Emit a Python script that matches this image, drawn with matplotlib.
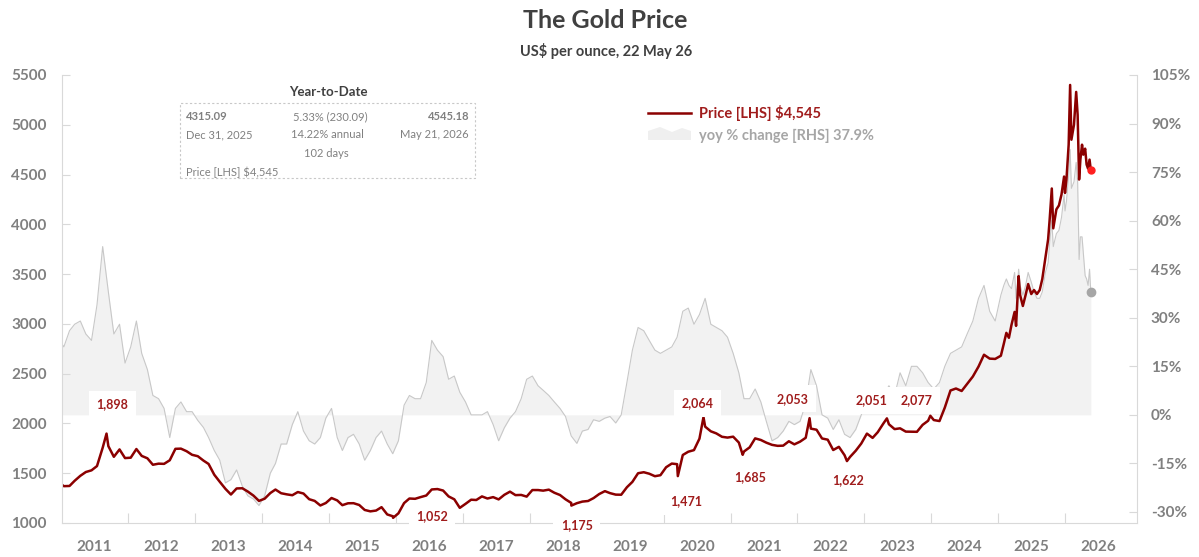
import matplotlib
matplotlib.use('Agg')
import matplotlib.pyplot as plt
from matplotlib.patches import Rectangle, Polygon
from matplotlib.lines import Line2D
import pandas as pd

plt.rcParams['font.family'] = ['Lato', 'DejaVu Sans']

# monthly gold price (US$/oz), Jan 2011 - Dec 2024
price_monthly = [
    1370, 1372, 1424, 1474, 1512, 1529, 1572, 1756, 1772, 1665, 1739, 1652,
    1656, 1743, 1674, 1650, 1585, 1596, 1594, 1630, 1745, 1747, 1721, 1685,
    1671, 1627, 1593, 1485, 1414, 1343, 1286, 1347, 1349, 1316, 1275, 1222,
    1244, 1301, 1336, 1299, 1288, 1279, 1311, 1296, 1239, 1222, 1176, 1201,
    1251, 1227, 1179, 1198, 1199, 1181, 1131, 1117, 1125, 1159, 1086, 1068,
    1097, 1200, 1246, 1243, 1260, 1276, 1337, 1341, 1326, 1267, 1238, 1152,
    1192, 1234, 1231, 1267, 1246, 1260, 1237, 1283, 1315, 1280, 1282, 1265,
    1331, 1331, 1325, 1335, 1304, 1281, 1238, 1202, 1199, 1215, 1221, 1250,
    1291, 1320, 1300, 1285, 1284, 1359, 1413, 1500, 1510, 1495, 1470, 1480,
    1560, 1597, 1591, 1683, 1716, 1732, 1847, 1968, 1921, 1900, 1866, 1858,
    1867, 1808, 1718, 1760, 1850, 1834, 1807, 1785, 1775, 1777, 1821, 1790,
    1817, 1856, 1948, 1937, 1849, 1837, 1733, 1765, 1681, 1664, 1726, 1798,
    1898, 1855, 1912, 2000, 1992, 1943, 1951, 1918, 1917, 1916, 1986, 2027,
    2034, 2024, 2159, 2331, 2351, 2326, 2398, 2471, 2571, 2690, 2651, 2648,
]

# year-on-year change (%), Jan 2011 - Dec 2024
yoy_monthly = [
    21, 26, 28, 29, 25, 23, 34, 52, 38, 25, 28, 16,
    21, 29, 19, 14, 6, 5, 2, -7, 2, 4, 1, 1,
    -1.7, -3.9, -7, -11, -14, -21, -20, -17, -22, -25, -26, -28,
    -25, -18, -15, -9, -9, -3, 1, -5, -8, -9, -7, -1,
    2, -7, -11, -7, -6, -9, -14, -11, -7, -5, -9, -12,
    -8, 3, 6, 5, 5, 10, 23, 20, 18, 11, 12, 7,
    4, 0, 0, 0, 1, -3, -8, -4, -1, 1, 5, 11,
    12, 9, 7.6, 6, 4, 2, -0.5, -6.5, -8.8, -5, -4.5, -1.5,
    -2, -1, -0.5, -2.5, 0, 10, 20, 27, 26, 23, 20, 19,
    20, 21, 24, 32, 33, 28, 31, 36, 28, 27, 26, 24,
    19, 13, 5, 5, 8, 4, -2, -8, -7, -5, -2, -3,
    -2, 3.5, 14, 9, 0, -1, -4.5, -1.5, -6, -7, -4.5, 0,
    4, 0.5, 2, 6, 9, 6, 13, 9, 15, 15, 13, 10,
    8, 10, 15, 19, 20, 21, 25, 29, 36, 40, 32, 29,
]

# more detail for the last stretch
recent_dates = ['2025-01-15', '2025-01-31', '2025-02-14', '2025-02-28', '2025-03-14',
                '2025-03-31', '2025-04-08', '2025-04-22', '2025-04-30', '2025-05-15',
                '2025-05-30', '2025-06-13', '2025-06-30', '2025-07-15', '2025-07-31',
                '2025-08-15', '2025-08-29', '2025-09-15', '2025-09-30', '2025-10-08',
                '2025-10-20', '2025-10-28', '2025-11-14', '2025-11-28', '2025-12-12',
                '2025-12-26', '2025-12-31', '2026-01-08', '2026-01-20', '2026-01-28',
                '2026-02-04', '2026-02-18', '2026-03-02', '2026-03-10', '2026-03-18',
                '2026-03-25', '2026-04-03', '2026-04-10', '2026-04-20', '2026-04-28',
                '2026-05-06', '2026-05-14', '2026-05-21']
recent_price = [2680, 2800, 2910, 2860, 2990, 3120, 2980, 3480, 3290, 3180,
                3290, 3400, 3300, 3340, 3300, 3340, 3450, 3660, 3850, 4040,
                4360, 3960, 4150, 4190, 4300, 4480, 4315, 4450, 4800, 5400,
                4850, 5000, 5330, 5100, 4450, 4650, 4800, 4700, 4760, 4600,
                4560, 4650, 4545]
recent_yoy = [37, 40, 42, 40, 39, 44, 36, 45, 40, 37,
              40, 44, 41, 38, 36, 36, 38, 44, 47, 53,
              60, 52, 56, 57, 61, 68, 63, 66, 74, 82,
              70, 72, 78, 72, 48, 55, 55, 50, 43, 42,
              40, 45, 37.9]

# first trading day and labelled turning points
start_date = '2011-01-04'
start_price = 1385
start_yoy = 22
turn_dates = ['2011-09-05', '2015-12-17', '2018-08-16', '2020-03-19', '2020-08-06',
              '2021-03-08', '2022-03-08', '2022-09-28', '2023-05-04', '2023-12-27']
turn_price = [1898, 1052, 1175, 1471, 2064, 1685, 2053, 1622, 2051, 2077]
# label offsets (points) from each turning point
label_offsets = [(4, 21), (28, 1), (4, -14), (6, -18), (-4, 10),
                 (5, -16), (-12, 14), (1, -14), (-11, 13), (-10, 11)]

# build the series
months = pd.date_range('2011-01-01', '2024-12-01', freq='MS') + pd.Timedelta(days=14)
price = pd.concat([
    pd.Series([start_price], index=pd.to_datetime([start_date])),
    pd.Series(price_monthly, index=months),
    pd.Series(turn_price, index=pd.to_datetime(turn_dates)),
    pd.Series(recent_price, index=pd.to_datetime(recent_dates)),
]).sort_index()
yoy = pd.concat([
    pd.Series([start_yoy], index=pd.to_datetime([start_date])),
    pd.Series(yoy_monthly, index=months),
    pd.Series(recent_yoy, index=pd.to_datetime(recent_dates)),
]).sort_index()

W, H = 1199, 557
def fx(px):
    return px / W
def fy(py):
    return 1 - py / H

fig = plt.figure(figsize=(W / 100, H / 100), dpi=100)
ax = fig.add_axes([fx(62), fy(523), fx(1137) - fx(62), fy(75) - fy(523)])
axr = ax.twinx()
ax.set_zorder(axr.get_zorder() + 1)
ax.patch.set_visible(False)

grey_txt = '#808080'
spine_c = '#d9d9d9'
red_txt = '#a01c1c'

# yoy area on the right axis
axr.fill_between(yoy.index, yoy.values, 0, color='#f2f2f2', lw=0)
axr.plot(yoy.index, yoy.values, color='#c8c8c8', lw=0.8)
axr.plot(yoy.index[-1:], yoy.values[-1:], 'o', color='#a6a6a6', ms=6)
axr.set_ylim(-33.4, 105)
yt = list(range(-30, 106, 15))
axr.set_yticks(yt, [f'{v}%' for v in yt], fontweight='bold')
axr.tick_params(axis='y', direction='in', length=6, color=spine_c, width=0.8,
                labelcolor=grey_txt, labelsize=11, pad=10)
for s in ['top', 'left', 'bottom']:
    axr.spines[s].set_visible(False)
axr.spines['right'].set_color(spine_c)

# price line on the left axis
ax.plot(price.index, price.values, color='#8b0000', lw=1.8)
ax.plot(price.index[-1:], price.values[-1:], 'o', color='#ff2020', ms=5)
ax.set_ylim(1000, 5500)
ax.set_yticks(range(1000, 5501, 500), [str(v) for v in range(1000, 5501, 500)],
              fontweight='bold')
ax.tick_params(axis='y', direction='in', length=6, color=spine_c, width=0.8,
               labelcolor=grey_txt, labelsize=11, pad=11)

ax.set_xlim(pd.Timestamp('2011-01-05'), pd.Timestamp('2027-01-28'))
ax.set_xticks([pd.Timestamp(f'{y}-01-01') for y in range(2012, 2027)])
ax.xaxis.set_major_formatter(plt.NullFormatter())
ax.set_xticks([pd.Timestamp(f'{y}-07-01') for y in range(2011, 2027)],
              [str(y) for y in range(2011, 2027)], minor=True, fontweight='bold')
ax.tick_params(axis='x', which='major', direction='in', length=7, color=spine_c, width=0.8)
ax.tick_params(axis='x', which='minor', length=0, labelcolor=grey_txt, labelsize=11, pad=12)
for s in ['top', 'right']:
    ax.spines[s].set_visible(False)
for s in ['left', 'bottom']:
    ax.spines[s].set_color(spine_c)

# turning point labels
for d, v, off in zip(turn_dates, turn_price, label_offsets):
    ax.annotate(f'{v:,}', xy=(pd.Timestamp(d), v), xytext=off, textcoords='offset points',
                ha='center', va='center', fontsize=9, fontweight='bold', color=red_txt,
                bbox=dict(boxstyle='square,pad=0.6', fc='white', ec='none'),
                zorder=6, annotation_clip=False)

# titles
fig.text(fx(605), fy(20), 'The Gold Price', ha='center', va='center',
         fontsize=18, fontweight='bold', color='#404040')
fig.text(fx(606), fy(51), 'US$ per ounce, 22 May 26', ha='center', va='center',
         fontsize=10.5, fontweight='bold', color='#404040')

# legend
fig.add_artist(Line2D([fx(648), fx(691)], [fy(113), fy(113)], color='#8b0000', lw=1.8))
fig.add_artist(Polygon([(fx(648), fy(131)), (fx(660), fy(127)), (fx(672), fy(132)),
                        (fx(682), fy(128)), (fx(691), fy(131)), (fx(691), fy(140)),
                        (fx(648), fy(140))], closed=True, fc='#efefef', ec='none'))
fig.text(fx(699), fy(113), 'Price [LHS] $4,545', ha='left', va='center',
         fontsize=10.5, fontweight='bold', color=red_txt)
fig.text(fx(699), fy(136), 'yoy % change [RHS] 37.9%', ha='left', va='center',
         fontsize=10.5, fontweight='bold', color='#a6a6a6')

# year-to-date box
fig.add_artist(Rectangle((fx(180), fy(178)), fx(475) - fx(180), fy(103) - fy(178),
                         fill=False, ec='#c8c8c8', lw=0.8, ls=(0, (2, 2))))
fig.text(fx(328), fy(92), 'Year-to-Date', ha='center', va='center',
         fontsize=9.5, fontweight='bold', color='#404040')
small = dict(va='center', fontsize=8, color=grey_txt)
fig.text(fx(186), fy(117), '4315.09', ha='left', fontweight='bold', **small)
fig.text(fx(330), fy(117), '5.33% (230.09)', ha='center', **small)
fig.text(fx(469), fy(117), '4545.18', ha='right', fontweight='bold', **small)
fig.text(fx(186), fy(135), 'Dec 31, 2025', ha='left', **small)
fig.text(fx(327), fy(135), '14.22% annual', ha='center', **small)
fig.text(fx(469), fy(135), 'May 21, 2026', ha='right', **small)
fig.text(fx(326), fy(153), '102 days', ha='center', **small)
fig.text(fx(186), fy(172), 'Price [LHS] $4,545', ha='left', **small)

fig.savefig('out.png', dpi=100)
